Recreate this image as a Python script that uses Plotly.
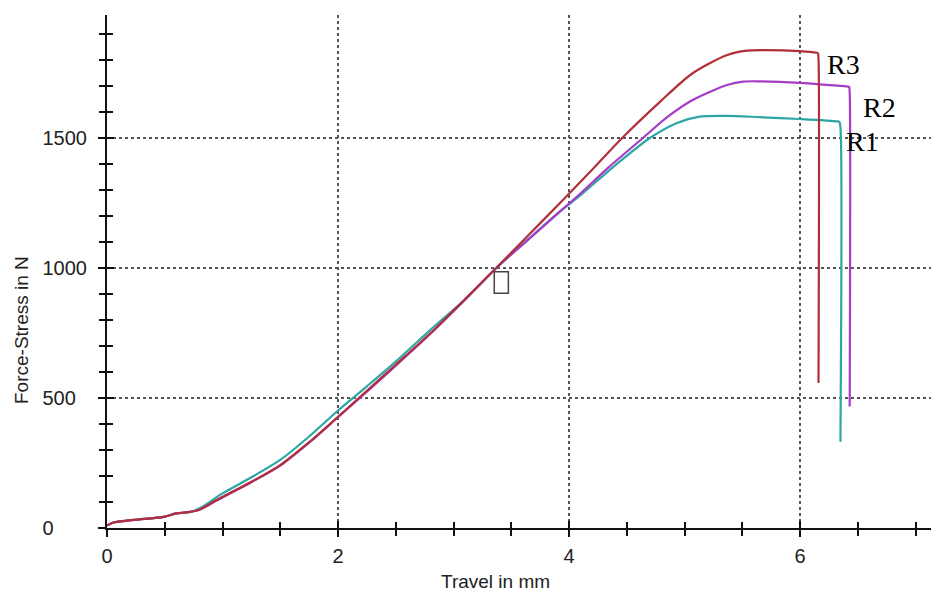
import plotly.graph_objects as go

# ---- data ----
r1_x = [0, 0.05, 0.23, 0.49, 0.60, 0.72, 0.80, 1.00, 1.25, 1.50, 1.75, 2.00, 2.25, 2.50, 2.80, 3.10, 3.37,
        3.65, 3.92, 4.10, 4.40, 4.70, 4.93, 5.13, 5.37, 5.65, 6.00, 6.32, 6.34, 6.35, 6.35]
r1_y = [10, 20, 31, 43, 56, 62, 75, 133, 195, 262, 352, 452, 545, 640, 762, 880, 1000,
        1112, 1217, 1280, 1395, 1500, 1557, 1582, 1585, 1580, 1573, 1564, 1562, 1540, 332]

r2_x = [0, 0.05, 0.23, 0.49, 0.60, 0.72, 0.80, 0.95, 1.25, 1.50, 1.75, 2.00, 2.25, 2.50, 2.80, 3.10, 3.37,
        3.65, 3.92, 4.07, 4.35, 4.64, 4.85, 5.07, 5.37, 5.51, 5.65, 6.00, 6.30, 6.41, 6.425, 6.43, 6.43]
r2_y = [10, 20, 31, 43, 56, 62, 70, 106, 176, 240, 328, 426, 524, 624, 747, 878, 1000,
        1110, 1217, 1275, 1390, 1500, 1580, 1646, 1704, 1717, 1718, 1712, 1702, 1698, 1697, 1675, 467]

r3_x = [0, 0.05, 0.23, 0.49, 0.60, 0.72, 0.80, 0.95, 1.25, 1.50, 1.75, 2.00, 2.25, 2.50, 2.80, 3.10, 3.37,
        3.65, 3.92, 4.20, 4.46, 4.79, 5.07, 5.37, 5.54, 5.70, 6.00, 6.14, 6.155, 6.16, 6.16]
r3_y = [10, 20, 31, 43, 56, 62, 70, 108, 178, 242, 330, 428, 528, 628, 749, 880, 1000,
        1127, 1249, 1378, 1500, 1640, 1749, 1819, 1836, 1838, 1834, 1828, 1826, 1805, 558]

series = [("R1", r1_x, r1_y, "#2ea6a6"),
          ("R2", r2_x, r2_y, "#a63cc6"),
          ("R3", r3_x, r3_y, "#b02f38")]

label_pos = {"R1": (6.54, 1488), "R2": (6.69, 1617), "R3": (6.38, 1781)}
marker_box = (3.353, 903, 3.475, 986)

x_range = [0, 7.134]
y_range = [0, 1973]
x_ticks = [0, 2, 4, 6]
y_ticks = [0, 500, 1000, 1500]
y_tick_labels = ["0", "500", "1000", "1500"]

# left-align y tick labels by padding with figure spaces
_w = max(len(s) for s in y_tick_labels)
y_tick_text = [s + "\u2007" * (_w - len(s)) for s in y_tick_labels]

fig = go.Figure()
for name, xs, ys, col in series:
    fig.add_trace(go.Scatter(x=xs, y=ys, mode="lines", name=name,
                             line=dict(color=col, width=2.2, shape="spline", smoothing=0.8),
                             showlegend=False, hoverinfo="skip"))

for name, (lx, ly) in label_pos.items():
    fig.add_annotation(x=lx, y=ly, text=name, showarrow=False,
                       font=dict(family="Liberation Serif", size=28, color="#000"))

fig.add_shape(type="rect", x0=marker_box[0], y0=marker_box[1], x1=marker_box[2], y1=marker_box[3],
              line=dict(color="#444", width=1.5))

tickfont = dict(family="Liberation Sans", size=20, color="#222")
axis_common = dict(showline=True, linecolor="#111", linewidth=2, zeroline=False,
                   tickcolor="#111", tickwidth=2, tickfont=tickfont)

fig.update_layout(
    width=931, height=593,
    margin=dict(l=107, r=0, t=15, b=65),
    paper_bgcolor="white", plot_bgcolor="white",
    xaxis=dict(range=x_range, tickvals=x_ticks, ticks="outside", ticklen=7,
               minor=dict(dtick=0.5, ticks="outside", ticklen=6, tickcolor="#111", tickwidth=2),
               showgrid=True, gridcolor="#555", griddash="dot", gridwidth=1.5,
               ticklabelstandoff=2, **axis_common),
    yaxis=dict(range=y_range, tickvals=y_ticks, ticktext=y_tick_text, ticks="outside", ticklen=7,
               minor=dict(dtick=100, ticks="outside", ticklen=6, tickcolor="#111", tickwidth=2),
               showgrid=True, gridcolor="#555", griddash="dot", gridwidth=1.5,
               ticklabelstandoff=7, **axis_common),
    xaxis2=dict(range=x_range, overlaying="x", anchor="y", side="bottom",
                tickvals=x_ticks, ticks="inside", ticklen=7, showticklabels=False, showgrid=False,
                minor=dict(dtick=0.5, ticks="inside", ticklen=6, tickcolor="#111", tickwidth=2),
                showline=False, zeroline=False, tickcolor="#111", tickwidth=2),
    yaxis2=dict(range=y_range, overlaying="y", anchor="x", side="left",
                tickvals=y_ticks, ticks="inside", ticklen=7, showticklabels=False, showgrid=False,
                minor=dict(dtick=100, ticks="inside", ticklen=6, tickcolor="#111", tickwidth=2),
                showline=False, zeroline=False, tickcolor="#111", tickwidth=2),
)

# invisible trace to activate the overlay axes
fig.add_trace(go.Scatter(x=[None], y=[None], xaxis="x2", yaxis="y2", showlegend=False, hoverinfo="skip"))

fig.add_annotation(text="Travel in mm", xref="paper", yref="paper",
                   x=(495 - 107) / 824, y=-(581 - 528) / 513, xanchor="center", yanchor="middle",
                   showarrow=False, font=dict(family="Liberation Sans", size=19, color="#222"))
fig.add_annotation(text="Force-Stress in N", xref="paper", yref="paper", textangle=-90,
                   x=-(107 - 21) / 824, y=(528 - 330) / 513, xanchor="center", yanchor="middle",
                   showarrow=False, font=dict(family="Liberation Sans", size=19, color="#222"))

fig.write_html("out.html")
